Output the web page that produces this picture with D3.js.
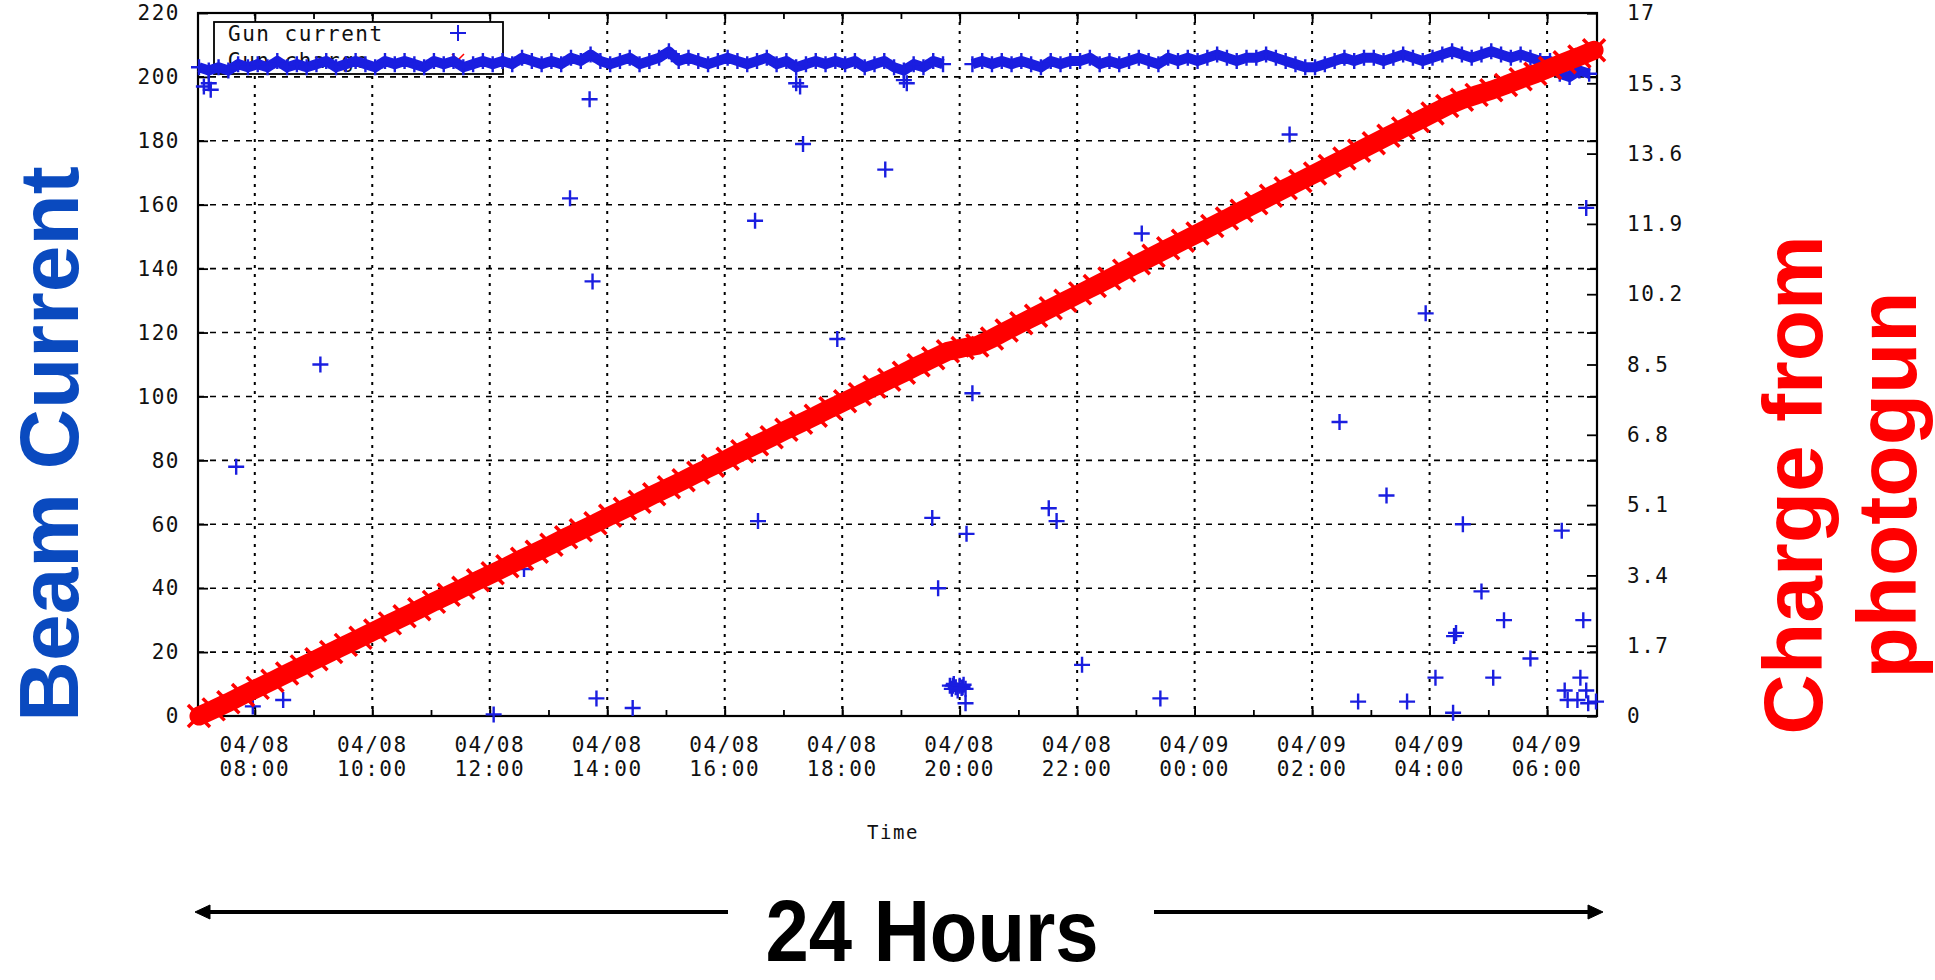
<!DOCTYPE html>
<html>
<head>
<meta charset="utf-8">
<script src="https://cdn.jsdelivr.net/npm/d3@7"></script>
<style>
  body { margin: 0; background: #fff; }
  svg { display: block; }
  .mono { font-family: "DejaVu Sans Mono", "Liberation Mono", monospace; font-size: 21px; fill: #111; letter-spacing: 1.5px; }
  .big { font-family: "Liberation Sans", Arial, sans-serif; font-weight: bold; }
</style>
</head>
<body>
<svg id="chart" width="1935" height="980"></svg>
<script>
'use strict';

// Gun current, regular readings every 10 minutes from 07:03
var currentStart = '04/08 07:03', currentStepMin = 10;
var currentBand = [
  203, 202, 203, 202, 204, 203,
  204, 203, 205, 203, 204, 203,
  204, 205, 203, 204, 205, 204,
  203, 205, 204, 205, 204, 203,
  205, 204, 205, 203, 204, 205,
  204, 205, 204, 206, 205, 204,
  205, 204, 206, 205, 207, 205,
  204, 205, 206, 204, 205, 206,
  208, 205, 206, 205, 204, 205,
  206, 205, 204, 205, 206, 204,
  205, 203, 204, 205, 204, 205,
  204, 205, 203, 204, 205, 203,
  202, 204, 203, 205, 204, 9.5,
  9, 204, 205, 204, 205, 204,
  205, 204, 203, 205, 204, 205,
  205, 206, 204, 205, 204, 205,
  206, 205, 204, 206, 205, 206,
  205, 206, 207, 206, 205, 206,
  206, 207, 206, 205, 204, 203,
  203, 204, 205, 206, 205, 206,
  206, 205, 206, 207, 206, 205,
  206, 207, 208, 207, 206, 207,
  208, 207, 206, 207, 206, 205,
  205, 201, 200, 202, 201
];

// Gun current dropouts (scattered readings)
var outlierTimes = [
  '04/08 07:08', '04/08 07:13', '04/08 07:15', '04/08 07:41', '04/08 07:58', '04/08 08:29',
  '04/08 09:07', '04/08 12:04', '04/08 12:35', '04/08 13:22', '04/08 13:42', '04/08 13:45',
  '04/08 13:49', '04/08 14:26', '04/08 16:31', '04/08 16:34', '04/08 17:13', '04/08 17:17',
  '04/08 17:20', '04/08 17:55', '04/08 18:44', '04/08 19:03', '04/08 19:06', '04/08 19:32',
  '04/08 19:38', '04/08 19:50', '04/08 19:52', '04/08 19:54', '04/08 19:56', '04/08 19:58',
  '04/08 20:00', '04/08 20:02', '04/08 20:04', '04/08 20:06', '04/08 20:06', '04/08 20:07',
  '04/08 20:13', '04/08 21:31', '04/08 21:39', '04/08 22:05', '04/08 23:06', '04/08 23:25',
  '04/09 01:37', '04/09 02:28', '04/09 02:47', '04/09 03:16', '04/09 03:37', '04/09 03:56',
  '04/09 04:06', '04/09 04:24', '04/09 04:25', '04/09 04:27', '04/09 04:34', '04/09 04:53',
  '04/09 05:05', '04/09 05:16', '04/09 05:43', '04/09 06:15', '04/09 06:18', '04/09 06:21',
  '04/09 06:31', '04/09 06:34', '04/09 06:37', '04/09 06:40', '04/09 06:40', '04/09 06:42',
  '04/09 06:50'
];
var outlierValues = [
  197, 198, 196, 78, 3, 5,
  110, 0.5, 46, 162, 193, 136,
  5.5, 2.5, 155, 61, 198, 197,
  179, 118, 171, 199, 198, 62,
  40, 9.5, 8.5, 10, 9, 8,
  9.5, 8.8, 9.8, 8.5, 4, 57,
  101, 65, 61, 16, 151, 5.5,
  182, 92, 4.5, 69, 4.5, 126,
  12, 1, 25, 26, 60, 39,
  12, 30, 18, 58, 8, 5,
  5, 12, 30, 159, 8, 4,
  4.5
];

// Gun charge, every 15 minutes from 07:03
var chargeStart = '04/08 07:03', chargeStepMin = 15;
var chargeValues = [
  0.00, 0.16, 0.33, 0.51, 0.68, 0.85, 1.03, 1.20, 1.37, 1.55, 1.72, 1.89,
  2.07, 2.24, 2.41, 2.58, 2.76, 2.93, 3.10, 3.28, 3.45, 3.62, 3.80, 3.97,
  4.14, 4.32, 4.49, 4.66, 4.84, 5.01, 5.18, 5.36, 5.53, 5.70, 5.88, 6.05,
  6.22, 6.40, 6.57, 6.74, 6.92, 7.09, 7.26, 7.44, 7.61, 7.78, 7.96, 8.13,
  8.30, 8.48, 8.65, 8.82, 8.90, 8.96, 9.13, 9.32, 9.50, 9.68, 9.86, 10.04,
  10.22, 10.40, 10.58, 10.77, 10.95, 11.13, 11.31, 11.49, 11.67, 11.85, 12.03, 12.22,
  12.40, 12.58, 12.76, 12.94, 13.12, 13.30, 13.48, 13.67, 13.85, 14.03, 14.21, 14.39,
  14.57, 14.75, 14.90, 15.02, 15.13, 15.26, 15.40, 15.53, 15.67, 15.81, 15.95, 16.10
];

var leftTicks = [0, 20, 40, 60, 80, 100, 120, 140, 160, 180, 200, 220];
var rightTicks = [0, 1.7, 3.4, 5.1, 6.8, 8.5, 10.2, 11.9, 13.6, 15.3, 17];
var timeDomain = ['04/08 07:02', '04/09 06:51'];

var blue = '#1a1ee0', red = '#ff0000';
var L = 198, R = 1597, T = 13, B = 716;

var svg = d3.select('#chart');
var parse = d3.timeParse('%m/%d %H:%M');

var x = d3.scaleTime().domain(timeDomain.map(parse)).range([L, R]);
var y = d3.scaleLinear().domain([0, 220]).range([B, T]);
var y2 = d3.scaleLinear().domain([0, 17]).range([B, T]);

var t0 = parse(currentStart), c0 = parse(chargeStart);
var bandData = currentBand.map(function(v, i) {
  return {t: d3.timeMinute.offset(t0, i * currentStepMin), v: v};
});
var chargeData = chargeValues.map(function(v, i) {
  return {t: d3.timeMinute.offset(c0, i * chargeStepMin), v: v};
});
var outlierData = outlierTimes.map(function(s, i) {
  return {t: parse(s), v: outlierValues[i]};
});

var xMajor = x.ticks(d3.timeHour.every(2));
var xMinor = x.ticks(d3.timeHour.every(1));

// grid
var grid = svg.append('g');
grid.selectAll('line.h').data(leftTicks.slice(1, -1)).enter().append('line')
  .attr('x1', L).attr('x2', R)
  .attr('y1', function(d) { return y(d); }).attr('y2', function(d) { return y(d); })
  .attr('stroke', '#000').attr('stroke-width', 1.6).attr('stroke-dasharray', '6,6');
grid.selectAll('line.v').data(xMajor).enter().append('line')
  .attr('x1', function(d) { return x(d); }).attr('x2', function(d) { return x(d); })
  .attr('y1', T).attr('y2', B)
  .attr('stroke', '#000').attr('stroke-width', 2).attr('stroke-dasharray', '3,6');

// axes (ticks point inward)
function clean(g) { g.select('.domain').remove(); g.selectAll('line').attr('stroke', '#000').attr('stroke-width', 1.8); }

svg.append('g').attr('transform', 'translate(' + L + ',0)')
  .call(d3.axisLeft(y).tickValues(leftTicks).tickSize(-10).tickPadding(18))
  .call(clean)
  .selectAll('text').attr('class', 'mono');

svg.append('g').attr('transform', 'translate(' + R + ',0)')
  .call(d3.axisRight(y).tickValues(leftTicks).tickSize(-10).tickFormat(''))
  .call(clean);

svg.append('g').attr('transform', 'translate(' + R + ',0)')
  .call(d3.axisRight(y2).tickValues(rightTicks).tickSize(-10).tickPadding(30).tickFormat(function(d) { return String(d); }))
  .call(clean)
  .selectAll('text').attr('class', 'mono');

svg.append('g').attr('transform', 'translate(0,' + B + ')')
  .call(d3.axisBottom(x).tickValues(xMinor).tickSize(-6).tickFormat(''))
  .call(clean);
svg.append('g').attr('transform', 'translate(0,' + B + ')')
  .call(d3.axisBottom(x).tickValues(xMajor).tickSize(-10).tickFormat(''))
  .call(clean);
svg.append('g').attr('transform', 'translate(0,' + T + ')')
  .call(d3.axisTop(x).tickValues(xMinor).tickSize(-6).tickFormat(''))
  .call(clean);
svg.append('g').attr('transform', 'translate(0,' + T + ')')
  .call(d3.axisTop(x).tickValues(xMajor).tickSize(-10).tickFormat(''))
  .call(clean);

// two-line time labels
var fmtDay = d3.timeFormat('%m/%d'), fmtHour = d3.timeFormat('%H:%M');
var xl = svg.append('g').selectAll('text').data(xMajor).enter().append('text')
  .attr('class', 'mono').attr('text-anchor', 'middle');
xl.append('tspan').attr('x', function(d) { return x(d); }).attr('y', 752).text(fmtDay);
xl.append('tspan').attr('x', function(d) { return x(d); }).attr('y', 776).text(fmtHour);

svg.append('text').attr('class', 'mono').attr('x', 893).attr('y', 839)
  .attr('text-anchor', 'middle').style('font-size', '19px').text('Time');

// plot border
svg.append('rect').attr('x', L).attr('y', T).attr('width', R - L).attr('height', B - T)
  .attr('fill', 'none').attr('stroke', '#000').attr('stroke-width', 2.2);

// legend (sits under the data)
var leg = svg.append('g');
leg.append('rect').attr('x', 214).attr('y', 22).attr('width', 289).attr('height', 52)
  .attr('fill', '#fff').attr('stroke', '#000').attr('stroke-width', 1.8);
leg.append('text').attr('class', 'mono').attr('x', 228).attr('y', 41).text('Gun current');
leg.append('text').attr('class', 'mono').attr('x', 228).attr('y', 68).text('Gun charge');
leg.append('path').attr('d', 'M-8,0H8M0,-8V8').attr('transform', 'translate(458,33)')
  .attr('stroke', blue).attr('stroke-width', 2);
leg.append('path').attr('d', 'M-6,-6L6,6M-6,6L6,-6').attr('transform', 'translate(458,60)')
  .attr('stroke', red).attr('stroke-width', 1.5);

// gun current
var plus = 'M-8,0H8M0,-8V8';
var bandLine = d3.line().defined(function(d) { return d.v > 100; })
  .x(function(d) { return x(d.t); }).y(function(d) { return y(d.v); });
svg.append('path').datum(bandData).attr('d', bandLine)
  .attr('fill', 'none').attr('stroke', blue).attr('stroke-width', 10).attr('stroke-linejoin', 'round');
svg.append('g').selectAll('path').data(bandData.concat(outlierData)).enter().append('path')
  .attr('d', plus)
  .attr('transform', function(d) { return 'translate(' + x(d.t) + ',' + y(d.v) + ')'; })
  .attr('stroke', blue).attr('stroke-width', 2.4);

// gun charge
var chargeLine = d3.line().x(function(d) { return x(d.t); }).y(function(d) { return y2(d.v); });
svg.append('path').datum(chargeData).attr('d', chargeLine)
  .attr('fill', 'none').attr('stroke', red).attr('stroke-width', 19).attr('stroke-linecap', 'round');
svg.append('g').selectAll('path').data(chargeData).enter().append('path')
  .attr('d', 'M-11,-11L11,11M-11,11L11,-11')
  .attr('transform', function(d) { return 'translate(' + x(d.t) + ',' + y2(d.v) + ')'; })
  .attr('stroke', red).attr('stroke-width', 3.5);

// side titles
svg.append('text').attr('class', 'big').attr('transform', 'translate(78,444) rotate(-90)')
  .attr('text-anchor', 'middle').style('font-size', '84px').attr('fill', '#0a4abf').text('Beam Current');
svg.append('text').attr('class', 'big').attr('transform', 'translate(1822,485) rotate(-90)')
  .attr('text-anchor', 'middle').style('font-size', '84px').attr('fill', red).text('Charge from');
svg.append('text').attr('class', 'big').attr('transform', 'translate(1916,485) rotate(-90)')
  .attr('text-anchor', 'middle').style('font-size', '84px').attr('fill', red).text('photogun');

// 24 hours arrow
var arrow = svg.append('g').attr('stroke', '#000').attr('fill', '#000');
arrow.append('line').attr('x1', 206).attr('x2', 728).attr('y1', 912).attr('y2', 912).attr('stroke-width', 4);
arrow.append('line').attr('x1', 1154).attr('x2', 1592).attr('y1', 912).attr('y2', 912).attr('stroke-width', 4);
arrow.append('path').attr('d', 'M195,912L210,905L210,919Z').attr('stroke-width', 1);
arrow.append('path').attr('d', 'M1603,912L1588,905L1588,919Z').attr('stroke-width', 1);
svg.append('text').attr('class', 'big').attr('x', 932).attr('y', 961)
  .attr('text-anchor', 'middle').style('font-size', '88px')
  .attr('textLength', 333).attr('lengthAdjust', 'spacingAndGlyphs').text('24 Hours');
</script>
</body>
</html>
